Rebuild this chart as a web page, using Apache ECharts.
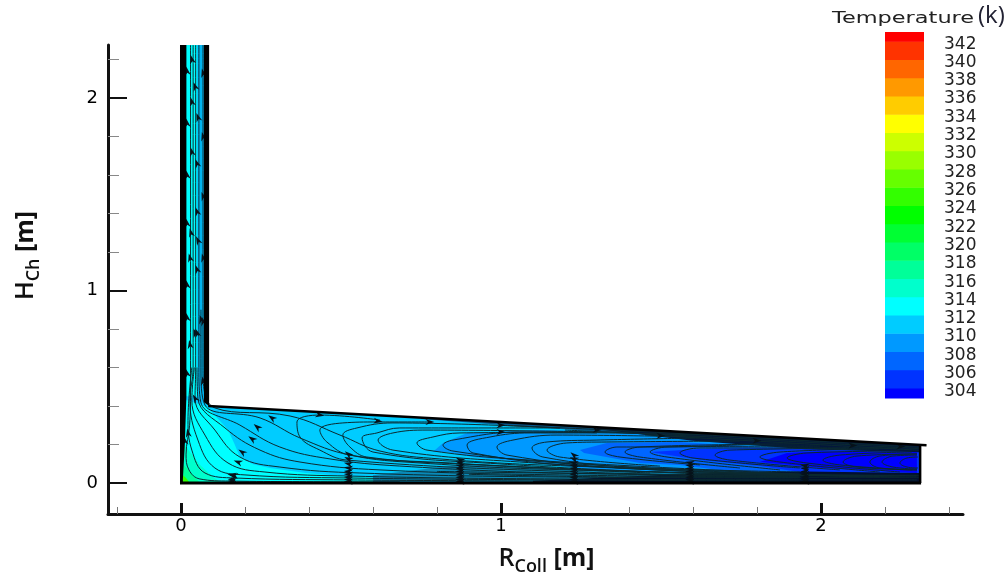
<!DOCTYPE html>
<html><head><meta charset="utf-8">
<style>html,body{margin:0;padding:0;background:#fff}#main{width:1007px;height:575px;filter:blur(.55px)}</style>
<script src="https://cdn.jsdelivr.net/npm/echarts@6/dist/echarts.min.js"></script>
</head><body><div id="main"></div>
<script>
// ---- axis ticks
const xMajor=[0,1,2];
const xMinor=[-0.2,0.2,0.4,0.6,0.8,1.2,1.4,1.6,1.8,2.2,2.4];
const yMajor=[0,1,2];
const yMinor=[0.2,0.4,0.6,0.8,1.2,1.4,1.6,1.8,2.2];
// ---- legend
const tempLevels=[304,306,308,310,312,314,316,318,320,322,324,326,328,330,332,334,336,338,340,342];
const tempColors=['#0000ff','#0033ff','#0066ff','#0099ff','#00ccff','#00ffff','#00ffcc','#00ff99','#00ff66','#00ff33','#00ff00','#33ff00','#66ff00','#99ff00','#ccff00','#ffff00','#ffcc00','#ff9900','#ff6600','#ff3300','#ff0000'];
// ---- temperature regions, [R, H] in metres
const domainOutline=[[0,0],[2.31,0],[2.31,.197],[.085,.4],[.085,2.275],[0,2.275]];
const regionCyanChannel=[[0,2.275],[.05,2.275],[.05,.45],[0,.45]];
const regionBlueStrip=[[.056,2.275],[.072,2.275],[.072,.42],[.056,.42]];
const region314=[[.02,.43],[.081,.396],[.115,.335],[.147,.276],[.168,.2],[.184,.135],[.225,.098],[.278,.078],[.39,.052],[.506,.036],[1,.01],[1,0],[0,0],[0,.43]];
const region316=[[0,.224],[.04,.135],[.06,.094],[.1,.031],[.128,0],[0,0]];
const region318=[[0,.11],[.028,.057],[.06,0],[0,0]];
const region322=[[0,.05],[.016,.026],[.028,0],[0,0]];
const region310=[[.787,.161],[.819,.208],[.894,.26],[1.119,.275],[1.622,.26],[2.31,.192],[2.31,.026],[1.309,.068],[.9125,.135],[.831,.161]];
const region308=[[1.247,.171],[1.331,.208],[1.559,.213],[1.809,.187],[2.31,.19],[2.31,.026],[1.809,.042],[1.559,.094],[1.434,.104],[1.26,.156]];
const region306=[[1.466,.161],[1.622,.177],[1.809,.182],[2.31,.172],[2.31,.047],[1.934,.057],[1.809,.088],[1.622,.119]];
const region304=[[1.809,.109],[1.894,.156],[2.0,.165],[2.3,.161],[2.3,.052],[2.006,.078]];
const regionRoofMid=[[.75,.339],[1.15,.303],[1.56,.265],[2.0,.226],[2.0,.205],[1.56,.24],[1.15,.285],[.75,.332]];
const regionRoofDark=[[1.3,.289],[1.75,.248],[2.31,.197],[2.31,.16],[1.95,.175],[1.6,.22],[1.3,.28]];
const regionFloorMid=[[.6,.04],[.9,.1],[1.3,.07],[1.9,.04],[1.9,0],[.6,0]];
const regionFloorDark=[[1.1,.012],[1.6,.05],[1.95,.06],[2.31,.052],[2.31,0],[1.1,0]];
const wallLeft=[[-.003,2.275],[.017,2.275],[.017,.45],[.012,.2],[.006,.02],[.006,0],[-.003,0]];
const wallRight=[[.072,2.275],[.088,2.275],[.088,.4],[.072,.42]];
const roofLine=[[.085,.4],[2.33,.196]];
const floorLine=[[-.003,0],[2.313,0]];
const endLine=[[2.31,.197],[2.31,0]];
// ---- streamlines from the channel into the collector
const s01=[[.03,2.275],[.03,.5],[.027,.3],[.016,.15],[.025,.068],[.059,.021],[.153,.01],[.684,.005]];
const s02=[[.034,.6],[.022,.325],[.034,.171],[.075,.052],[.169,.026],[.528,.016],[1.153,.01]];
const s03=[[.038,2.275],[.038,.6],[.028,.43],[.053,.223],[.106,.078],[.2,.042],[.528,.026],[1.184,.016],[1.934,.01]];
const s04=[[.042,.6],[.034,.43],[.075,.249],[.147,.104],[.2625,.057],[.528,.036],[1.184,.021],[2.3,.016]];
const s05=[[.046,2.275],[.046,.6],[.044,.44],[.106,.275],[.184,.135],[.309,.083],[.559,.052],[1.184,.031],[1.934,.026]];
const s06=[[.05,.6],[.053,.44],[.1375,.286],[.247,.171],[.372,.109],[.622,.068],[1.184,.042],[1.934,.031]];
const s07=[[.056,2.275],[.056,.6],[.062,.42],[.184,.301],[.309,.187],[.466,.125],[.684,.088],[1.184,.052],[1.934,.036]];
const s08=[[.0625,.9],[.0625,.6],[.075,.405],[.247,.338],[.372,.234],[.528,.145],[.747,.104],[1.216,.068],[2.3,.036]];
const s09=[[.069,2.275],[.069,.6],[.106,.39],[.341,.348],[.497,.249],[.622,.166],[.809,.125],[1.216,.088],[1.934,.057]];
// ---- looping streamlines: roof end, turning point, floor end
const c01=[[.622,.327],[.434,.353],[.3625,.317],[.372,.239],[.434,.171],[.519,.119],[1.247,.057],[1.934,.031]];
const c02=[[.778,.317],[.6125,.317],[.506,.312],[.434,.275],[.456,.213],[.528,.145],[.841,.104],[1.309,.068],[1.934,.036]];
const c03=[[1.184,.286],[.6625,.312],[.55,.286],[.506,.249],[.528,.187],[.581,.135],[.934,.094],[1.466,.052]];
const c04=[[1.184,.286],[.684,.286],[.6125,.26],[.566,.234],[.6,.161],[.997,.099],[1.622,.047]];
const c05=[[1.309,.265],[.769,.275],[.6625,.26],[.616,.223],[.6625,.171],[1.059,.109],[1.778,.047]];
const c06=[[1.434,.265],[.872,.26],[.7875,.239],[.7375,.208],[.769,.171],[1.091,.119],[1.934,.047]];
const c07=[[1.622,.25],[1.059,.265],[.85,.223],[.819,.197],[.85,.166],[1.184,.104],[2.091,.036]];
const c08=[[1.3,.26],[1.091,.26],[.966,.239],[.894,.197],[.9125,.156],[1.247,.088],[2.091,.036]];
const c09=[[1.622,.239],[1.175,.249],[1.0375,.223],[.9875,.187],[1.019,.145],[1.372,.078],[2.184,.031]];
const c10=[[1.622,.234],[1.3,.223],[1.144,.213],[1.097,.182],[1.131,.135],[1.434,.078],[2.247,.031]];
const c11=[[1.747,.218],[1.331,.213],[1.206,.208],[1.144,.171],[1.184,.135],[1.497,.088]];
const c12=[[1.809,.203],[1.475,.187],[1.3625,.187],[1.325,.161],[1.372,.135],[1.622,.094]];
const c13=[[1.934,.203],[1.434,.187],[1.3875,.161],[1.434,.135],[1.747,.078]];
const c14=[[1.997,.192],[1.519,.187],[1.466,.161],[1.519,.135],[1.872,.068]];
const c15=[[2.091,.182],[1.622,.182],[1.559,.156],[1.6,.13],[1.934,.078]];
const c16=[[2.247,.182],[1.716,.171],[1.669,.145],[1.716,.119],[2.059,.068]];
const c17=[[2.184,.177],[1.872,.161],[1.809,.135],[1.872,.109],[2.184,.057]];
const c18=[[2.247,.166],[1.956,.156],[1.894,.13],[1.956,.104],[2.247,.057]];
const c19=[[2.284,.161],[2.059,.145],[2.006,.119],[2.059,.094],[2.284,.068]];
const c20=[[2.3,.151],[2.1125,.14],[2.069,.109],[2.1125,.083],[2.3,.068]];
const c21=[[2.3,.151],[2.184,.14],[2.153,.109],[2.184,.078],[2.3,.068]];
const c22=[[2.3,.145],[2.225,.14],[2.191,.109],[2.225,.083],[2.3,.073]];
const c23=[[2.303,.135],[2.269,.13],[2.247,.104],[2.269,.083],[2.303,.078]];
// ---- dense floor and roof streamlines at the thin end
const d01=[[1.0,.3],[1.5,.262],[2.31,.185]];
const d02=[[1.2,.275],[1.7,.235],[2.31,.178]];
const d03=[[1.45,.25],[1.9,.208],[2.31,.17]];
const d04=[[.9,.045],[1.5,.03],[2.31,.03]];
const d05=[[.8,.06],[1.5,.045],[2.31,.04]];
// ---- arrowheads [R, H, rotation]
const arrowsRake=[
 [.16,.01,0],[.16,.02,0],[.165,.04,-8],
 [.523,.006,0],[.523,.018,0],[.523,.03,-4],[.523,.045,-4],[.523,.06,-6],[.523,.078,-8],[.523,.1,-14],[.523,.125,-24],[.523,.15,-40],
 [.872,.006,0],[.872,.018,0],[.872,.03,0],[.872,.045,0],[.872,.06,-4],[.872,.075,-8],[.872,.09,-12],[.872,.105,-18],[.872,.12,-28],
 [1.228,.006,0],[1.228,.018,0],[1.228,.03,0],[1.228,.045,0],[1.228,.06,0],[1.228,.075,-6],[1.228,.09,-8],[1.228,.105,-14],[1.228,.125,-22],[1.228,.145,-40],
 [1.59,.006,0],[1.59,.018,0],[1.59,.03,0],[1.59,.045,0],[1.59,.06,0],[1.59,.075,-4],[1.59,.09,-8],[1.59,.105,-14],
 [1.95,.006,0],[1.95,.018,0],[1.95,.03,0],[1.95,.045,0],[1.95,.06,0],[1.95,.075,-4],[1.95,.09,-10]];
const arrowsFan=[[.284,.338,-35],[.238,.291,-40],[.222,.229,-35],[.191,.161,-35],[.178,.109,-20],[.159,.042,-10],
 [.434,.353,170],[.616,.322,175],[.778,.317,180],[1.0,.3,180],[1.3,.275,180],[1.0,.265,180],[1.5,.245,180],[1.8,.22,180],[2.1,.195,180],[2.25,.19,180]];
const arrowsChannel=[[.044,.44,-60],[.022,.26,-80],[.012,.22,-80],[.069,.53,-80],[.019,.57,-75],
 [.0625,.85,-75],[.044,.78,-70],[.028,.72,-80],[.019,.86,-80],[.069,.84,-75],[.05,.78,-70],
 [.019,1.03,-80],[.028,1.17,-75],[.05,1.11,-70],[.069,1.17,-75],[.053,1.26,-65],[.031,1.3,-75],[.05,1.41,-70],[.069,1.49,-70],[.019,1.35,-80],
 [.019,1.6,-80],[.034,1.72,-75],[.05,1.66,-70],[.069,1.8,-75],[.053,1.9,-70],[.034,1.98,-75],[.019,1.87,-80],[.044,2.06,-70],[.069,2.13,-75],[.034,2.2,-75],[.019,2.14,-80]];

const streamlines=[s01,s02,s03,s04,s05,s06,s07,s08,s09,c01,c02,c03,c04,c05,c06,c07,c08,c09,c10,c11,c12,c13,c14,c15,c16,c17,c18,c19,c20,c21,c22,c23,d01,d02,d03,d04,d05];
const regions=[
 [domainOutline,'#00ccff'],[regionCyanChannel,'#00ffff'],[regionBlueStrip,'#00b4f0'],
 [region314,'#00ffff'],[region316,'#00ffcc'],[region318,'#00ff99'],[region322,'#33ff00'],
 [regionFloorMid,'#0a8ab8'],[region310,'#0099ff'],[region308,'#0066ff'],[region306,'#0033ff'],[region304,'#0000ff'],
 [regionRoofMid,'#0a5a90'],[regionRoofDark,'#03163c'],[regionFloorDark,'#021030'],
 [wallLeft,'#000'],[wallRight,'#000']];

const polygon=(pts,color,z)=>({type:'custom',coordinateSystem:'cartesian2d',xAxisIndex:0,yAxisIndex:0,silent:true,z,
  data:[pts[0]],clip:true,
  renderItem:(p,api)=>({type:'polygon',shape:{points:pts.map(q=>api.coord(q))},style:{fill:color}})});
const plain=(pts,w,z)=>({type:'line',data:pts,xAxisIndex:0,yAxisIndex:0,symbol:'none',silent:true,z,lineStyle:{color:'#000',width:w}});
const arrows=(pts,z)=>({type:'scatter',data:pts,xAxisIndex:0,yAxisIndex:0,silent:true,z,
  symbol:'path://M0,5 L10,0 L7,5 L10,10 Z',symbolSize:[9,6],symbolRotate:v=>v[2],itemStyle:{color:'#06121a',opacity:1}});

const legendBands=tempColors.map((c,i)=>[i===0?302.9:tempLevels[i-1],i===tempLevels.length?343:tempLevels[i],c]);

const series=[
 ...regions.map((r,i)=>polygon(r[0],r[1],r[0]===wallLeft||r[0]===wallRight?6:2)),
 ...streamlines.map(l=>({type:'line',data:l,xAxisIndex:0,yAxisIndex:0,symbol:'none',silent:true,smooth:.4,z:4,lineStyle:{color:'#0b2a30',width:1}})),
 arrows(arrowsRake,5),arrows(arrowsFan,5),arrows(arrowsChannel,5),
 plain(roofLine,2.5,7),plain(floorLine,3,7),plain(endLine,2.5,7),
 {type:'custom',coordinateSystem:'cartesian2d',xAxisIndex:2,yAxisIndex:2,silent:true,data:legendBands,
  renderItem:(p,api)=>{const b=legendBands[p.dataIndex];const a=api.coord([0,b[1]]),c=api.coord([1,b[0]]);
   return {type:'rect',shape:{x:a[0],y:a[1],width:c[0]-a[0],height:c[1]-a[1]+.5},style:{fill:b[2]}};}}
];
const tickFont={fontFamily:'DejaVu Sans',fontSize:18,color:'#000'};
const nameRich={r:{fontFamily:'Open Sans',fontWeight:600,fontSize:25,color:'#111',verticalAlign:'bottom'},
 s:{fontFamily:'Open Sans',fontWeight:600,fontSize:18,color:'#111',verticalAlign:'bottom',padding:[0,0,-5,0]},
 b:{fontFamily:'Open Sans',fontWeight:700,fontSize:25,color:'#111',verticalAlign:'bottom'}};
const option={animation:false,backgroundColor:'#fff',
 grid:[{left:108,right:44,top:45,bottom:61,outerBoundsMode:'none'},
       {left:885,width:39,top:32,height:366,outerBoundsMode:'none'},
       {left:885,width:39,top:35,height:367,outerBoundsMode:'none'}],
 xAxis:[
  {type:'value',gridIndex:0,min:-.228,max:2.444,position:'bottom',splitLine:{show:false},
   axisLine:{onZero:false,lineStyle:{color:'#111',width:3}},
   axisTick:{show:true,inside:true,length:11,customValues:xMajor,lineStyle:{color:'#111',width:3}},
   axisLabel:{show:true,customValues:xMajor,formatter:v=>String(v),margin:3,...tickFont},
   name:'{r|R}{s|Coll}{b| [m]}',nameLocation:'middle',nameGap:32,nameTextStyle:{rich:nameRich,padding:[0,0,0,22]}},
  {type:'value',gridIndex:0,min:-.228,max:2.444,position:'bottom',splitLine:{show:false},axisLine:{show:false,onZero:false},
   axisLabel:{show:false},axisTick:{show:true,inside:true,length:7,customValues:xMinor,lineStyle:{color:'#777',width:1}}},
  {type:'value',gridIndex:1,min:0,max:1,show:false},
  {type:'value',gridIndex:2,min:0,max:1,show:false}],
 yAxis:[
  {type:'value',gridIndex:0,min:-.161,max:2.275,position:'left',splitLine:{show:false},
   axisLine:{onZero:false,lineStyle:{color:'#111',width:3}},
   axisTick:{show:true,inside:true,length:19,customValues:yMajor,lineStyle:{color:'#111',width:2}},
   axisLabel:{show:true,customValues:yMajor,formatter:v=>String(v),margin:10,...tickFont},
   name:'{r|H}{s|Ch}{b| [m]}',nameLocation:'middle',nameGap:70,nameTextStyle:{rich:nameRich,padding:[0,0,0,48]}},
  {type:'value',gridIndex:0,min:-.161,max:2.275,position:'left',splitLine:{show:false},axisLine:{show:false,onZero:false},
   axisLabel:{show:false},axisTick:{show:true,inside:true,length:11,customValues:yMinor,lineStyle:{color:'#888',width:1}}},
  {type:'value',gridIndex:1,min:302.9,max:343,position:'right',show:false,splitLine:{show:false}},
  {type:'value',gridIndex:2,min:302.9,max:343,position:'right',splitLine:{show:false},axisLine:{show:false},axisTick:{show:false},
   axisLabel:{show:true,customValues:tempLevels,formatter:v=>String(v),margin:20,fontFamily:'DejaVu Sans',fontSize:17,color:'#222'}}],
 graphic:[
  {type:'text',left:832,top:10,scaleX:1.36,style:{text:'Temperature',font:'16.5px "DejaVu Sans"',fill:'#222'}},
  {type:'text',left:978,top:4,style:{text:'(k)',font:'24px "Open Sans"',fill:'#223'}}],
 series};
echarts.init(document.getElementById('main'),null,{renderer:'canvas'}).setOption(option);
</script></body></html>
